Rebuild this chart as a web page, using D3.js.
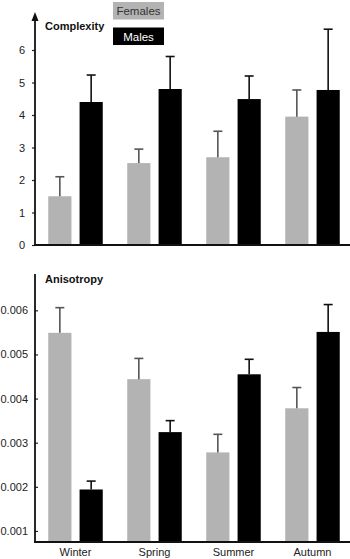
<!DOCTYPE html>
<html>
<head>
<meta charset="utf-8">
<script src="https://cdn.jsdelivr.net/npm/d3@7"></script>
<style>
  body { margin: 0; background: #fff; }
  svg { display: block; font-family: "Liberation Sans", Arial, sans-serif; }
</style>
</head>
<body>
<div id="chart"></div>
<script>
//categories
var seasons = ["Winter", "Spring", "Summer", "Autumn"];
var sexes = ["Females", "Males"];

//complexity means and error tops
var complexityFemales = [1.5, 2.52, 2.7, 3.95];
var complexityFemalesErr = [2.1, 2.95, 3.5, 4.77];
var complexityMales = [4.4, 4.8, 4.49, 4.77];
var complexityMalesErr = [5.23, 5.8, 5.2, 6.64];

//anisotropy means and error tops
var anisoFemales = [0.00549, 0.00444, 0.00278, 0.00378];
var anisoFemalesErr = [0.00606, 0.00491, 0.00319, 0.00425];
var anisoMales = [0.00194, 0.00324, 0.00455, 0.00551];
var anisoMalesErr = [0.00213, 0.0035, 0.00489, 0.00613];

//tick labels
var complexityTicks = [0, 1, 2, 3, 4, 5, 6];
var anisoTicks = [0.001, 0.002, 0.003, 0.004, 0.005, 0.006];

var width = 350, height = 559;
var colors = { Females: "#b3b3b3", Males: "#000000" };
var errColors = { Females: "#555555", Males: "#111111" };

var svg = d3.select("#chart").append("svg")
  .attr("width", width)
  .attr("height", height);

//x scales shared by both panels
var xScale = d3.scaleBand()
  .domain(seasons)
  .range([36, 352])
  .paddingInner(0.31)
  .paddingOuter(0.155);

var xInner = d3.scaleBand()
  .domain(sexes)
  .range([0, xScale.bandwidth()])
  .paddingInner(0.26);

//build rows for a panel
var makeRows = function(fem, femErr, mal, malErr) {
  var rows = [];
  seasons.forEach(function(s, i) {
    rows.push({ season: s, sex: "Females", value: fem[i], err: femErr[i] });
    rows.push({ season: s, sex: "Males", value: mal[i], err: malErr[i] });
  });
  return rows;
};

var drawPanel = function(rows, yScale, ticks, fmt, title, tickSide, axisTop) {
  var base = yScale.range()[0];
  var g = svg.append("g");

  //bars
  g.selectAll(".bar")
    .data(rows)
    .enter()
    .append("rect")
    .attr("class", "bar")
    .attr("x", function(d) { return xScale(d.season) + xInner(d.sex); })
    .attr("width", xInner.bandwidth())
    .attr("y", function(d) { return yScale(d.value); })
    .attr("height", function(d) { return base - yScale(d.value); })
    .attr("fill", function(d) { return colors[d.sex]; });

  //error bars
  var cx = function(d) { return xScale(d.season) + xInner(d.sex) + xInner.bandwidth() / 2; };
  g.selectAll(".err")
    .data(rows)
    .enter()
    .append("line")
    .attr("x1", cx)
    .attr("x2", cx)
    .attr("y1", function(d) { return yScale(d.value); })
    .attr("y2", function(d) { return yScale(d.err); })
    .attr("stroke", function(d) { return errColors[d.sex]; })
    .attr("stroke-width", 1.6);

  g.selectAll(".cap")
    .data(rows)
    .enter()
    .append("line")
    .attr("x1", function(d) { return cx(d) - 4.5; })
    .attr("x2", function(d) { return cx(d) + 4.5; })
    .attr("y1", function(d) { return yScale(d.err); })
    .attr("y2", function(d) { return yScale(d.err); })
    .attr("stroke", function(d) { return errColors[d.sex]; })
    .attr("stroke-width", 1.6);

  //y axis
  var yAxis = d3.axisLeft(yScale)
    .tickValues(ticks)
    .tickFormat(fmt)
    .tickSize(tickSide * 3)
    .tickPadding(7);

  var ax = g.append("g")
    .attr("transform", "translate(35,0)")
    .call(yAxis);
  ax.select(".domain").remove();
  ax.selectAll("line").attr("stroke", "#222").attr("stroke-width", 1.2);
  ax.selectAll("text")
    .attr("fill", "#222")
    .style("font-size", "11px");

  //axis lines
  g.append("line")
    .attr("x1", 35).attr("x2", 35)
    .attr("y1", base + 1).attr("y2", axisTop)
    .attr("stroke", "#111").attr("stroke-width", 1.8);
  g.append("line")
    .attr("x1", 34).attr("x2", width)
    .attr("y1", base).attr("y2", base)
    .attr("stroke", "#111").attr("stroke-width", 1.8);

  //panel title
  g.append("text")
    .attr("x", 45)
    .attr("y", axisTop + (title == "Complexity" ? 14 : 9))
    .attr("font-weight", "bold")
    .style("font-size", "11px")
    .attr("fill", "#111")
    .text(title);

  return g;
};

//top panel
var yTop = d3.scaleLinear().domain([0, 6]).range([245, 50]);
drawPanel(
  makeRows(complexityFemales, complexityFemalesErr, complexityMales, complexityMalesErr),
  yTop, complexityTicks, d3.format("d"), "Complexity", 1, 16
);

//arrow head
svg.append("path")
  .attr("d", "M35,12 L31.5,21 L38.5,21 Z")
  .attr("fill", "#111");

//bottom panel
var yBottom = d3.scaleLinear().domain([0.00075, 0.0068]).range([542, 275]);
drawPanel(
  makeRows(anisoFemales, anisoFemalesErr, anisoMales, anisoMalesErr),
  yBottom, anisoTicks, d3.format(".3f"), "Anisotropy", -1, 274
);

//x labels
svg.selectAll(".xlabel")
  .data(seasons)
  .enter()
  .append("text")
  .attr("x", function(d) { return xScale(d) + xScale.bandwidth() / 2; })
  .attr("y", 556)
  .attr("text-anchor", "middle")
  .style("font-size", "11px")
  .attr("fill", "#222")
  .text(function(d) { return d; });

//legend
var legend = svg.selectAll(".legend")
  .data(sexes)
  .enter()
  .append("g")
  .attr("transform", function(d, i) { return "translate(113," + (2 + i * 25.5) + ")"; });

legend.append("rect")
  .attr("width", 51)
  .attr("height", 17.5)
  .attr("fill", function(d) { return colors[d]; });

legend.append("text")
  .attr("x", 25.5)
  .attr("y", 13)
  .attr("text-anchor", "middle")
  .style("font-size", "11.5px")
  .attr("fill", function(d) { return d == "Males" ? "#fff" : "#333"; })
  .text(function(d) { return d; });
</script>
</body>
</html>
